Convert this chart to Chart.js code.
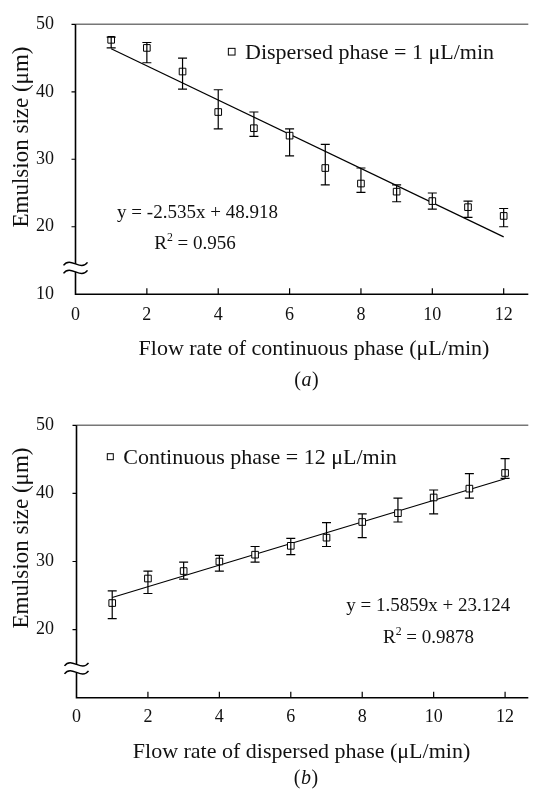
<!DOCTYPE html>
<html>
<head>
<meta charset="utf-8">
<title>Emulsion size vs flow rate</title>
<script src="https://cdn.jsdelivr.net/npm/chart.js@4.4.1/dist/chart.umd.min.js"></script>
<style>
  html, body { margin: 0; padding: 0; background: #fff; }
  #page { position: relative; width: 534px; height: 789px; overflow: hidden; }
  canvas { position: absolute; left: 0; }
</style>
</head>
<body>
<div id="page">
  <canvas id="chartA" width="534" height="400" style="top:0"></canvas>
  <canvas id="chartB" width="534" height="389" style="top:400px"></canvas>
</div>
<script>
const flowRates = [1, 2, 3, 4, 5, 6, 7, 8, 9, 10, 11, 12];

// (a) continuous phase varied, dispersed phase = 1 uL/min
const sizeA     = [47.7, 46.5, 43.0, 37.0, 34.6, 33.5, 28.7, 26.4, 25.2, 23.8, 22.9, 21.6];
const sizeAHigh = [48.1, 47.3, 45.0, 40.3, 37.0, 34.5, 32.2, 28.7, 26.2, 25.0, 23.8, 22.7];
const sizeALow  = [46.5, 44.3, 40.4, 34.5, 33.4, 30.5, 26.2, 25.1, 23.7, 22.6, 21.4, 20.0];
const fitSlopeA = -2.535;
const fitInterceptA = 48.918;

// (b) dispersed phase varied, continuous phase = 12 uL/min
const sizeB     = [23.9, 27.5, 28.6, 30.0, 31.0, 32.3, 33.5, 35.8, 37.1, 39.4, 40.7, 43.0];
const sizeBHigh = [25.7, 28.6, 29.9, 30.9, 32.2, 33.4, 35.7, 37.0, 39.3, 40.5, 42.9, 45.1];
const sizeBLow  = [21.6, 25.3, 27.4, 28.6, 29.9, 31.0, 32.2, 33.5, 35.8, 37.0, 39.3, 42.2];
const fitSlopeB = 1.5859;
const fitInterceptB = 23.124;

const xTicks = [0, 2, 4, 6, 8, 10, 12];
const yTicksA = [10, 20, 30, 40, 50];
const yTicksB = [20, 30, 40, 50];

const SERIF = '"Liberation Serif", "Times New Roman", serif';

function setFont(ctx, size, style) {
  ctx.font = (style ? style + " " : "") + size + "px " + SERIF;
}

function drawR2(ctx, value, cx, baseline, size) {
  setFont(ctx, size);
  const wR = ctx.measureText("R").width;
  const rest = " = " + value;
  const wRest = ctx.measureText(rest).width;
  setFont(ctx, size * 0.62);
  const w2 = ctx.measureText("2").width;
  let x = cx - (wR + w2 + wRest) / 2;
  ctx.textAlign = "left";
  ctx.textBaseline = "alphabetic";
  setFont(ctx, size);
  ctx.fillText("R", x, baseline);
  x += wR;
  setFont(ctx, size * 0.62);
  ctx.fillText("2", x, baseline - size * 0.42);
  x += w2;
  setFont(ctx, size);
  ctx.fillText(rest, x, baseline);
}

function drawCaption(ctx, letter, cx, baseline, size) {
  setFont(ctx, size);
  const wp = ctx.measureText("(").width;
  const wq = ctx.measureText(")").width;
  setFont(ctx, size, "italic");
  const wl = ctx.measureText(letter).width;
  let x = cx - (wp + wl + wq) / 2;
  ctx.textAlign = "left";
  ctx.textBaseline = "alphabetic";
  setFont(ctx, size);
  ctx.fillText("(", x, baseline);
  setFont(ctx, size, "italic");
  ctx.fillText(letter, x + wp + 0.5, baseline);
  setFont(ctx, size);
  ctx.fillText(")", x + wp + wl + 1, baseline);
}

const decorPlugin = {
  id: "decor",
  afterDatasetsDraw(chart, args, o) {
    const ctx = chart.ctx;
    const xs = chart.scales.x, ys = chart.scales.y;
    ctx.save();
    ctx.strokeStyle = "#000";
    ctx.lineWidth = 1.2;
    flowRates.forEach((v, i) => {
      const px = xs.getPixelForValue(v);
      const top = ys.getPixelForValue(o.high[i]);
      const bot = ys.getPixelForValue(o.low[i]);
      ctx.beginPath();
      ctx.moveTo(px, top); ctx.lineTo(px, bot);
      ctx.moveTo(px - 4.5, top); ctx.lineTo(px + 4.5, top);
      ctx.moveTo(px - 4.5, bot); ctx.lineTo(px + 4.5, bot);
      ctx.stroke();
    });
    ctx.restore();
  },
  afterDraw(chart, args, o) {
    const ctx = chart.ctx;
    const area = chart.chartArea;
    const xs = chart.scales.x, ys = chart.scales.y;
    ctx.save();

    // frame: grey top line, black left and bottom axes
    ctx.strokeStyle = "#777";
    ctx.lineWidth = 1.5;
    ctx.beginPath();
    ctx.moveTo(area.left, area.top); ctx.lineTo(area.right, area.top);
    ctx.stroke();
    ctx.strokeStyle = "#000";
    ctx.lineWidth = 1.6;
    ctx.beginPath();
    ctx.moveTo(area.left, area.top); ctx.lineTo(area.left, area.bottom);
    ctx.lineTo(area.right, area.bottom);
    ctx.stroke();

    // tick marks: x inward, y outward
    ctx.lineWidth = 1.2;
    ctx.beginPath();
    xTicks.slice(1).forEach(v => {
      const px = xs.getPixelForValue(v);
      ctx.moveTo(px, area.bottom); ctx.lineTo(px, area.bottom - 6);
    });
    o.yTicks.forEach(v => {
      if (v === ys.min) return;
      const py = ys.getPixelForValue(v);
      ctx.moveTo(area.left - 4, py); ctx.lineTo(area.left, py);
    });
    ctx.stroke();

    // axis break symbol
    const by = ys.getPixelForValue(o.breakAt);
    const bx = area.left;
    ctx.fillStyle = "#fff";
    ctx.fillRect(bx - 2, by - 4, 4, 8);
    ctx.lineWidth = 1.5;
    [-4, 4].forEach(d => {
      const y0 = by + d;
      ctx.beginPath();
      ctx.moveTo(bx - 12, y0 + 1.5);
      ctx.bezierCurveTo(bx - 5, y0 - 8, bx + 5, y0 + 8, bx + 12, y0 - 1.5);
      ctx.stroke();
    });

    ctx.fillStyle = "#111";

    // axis titles
    ctx.save();
    setFont(ctx, 23);
    ctx.translate(o.yTitle.x, o.yTitle.y);
    ctx.rotate(-Math.PI / 2);
    ctx.textAlign = "center";
    ctx.textBaseline = "middle";
    ctx.fillText("Emulsion size (\u03bcm)", 0, 0);
    ctx.restore();

    setFont(ctx, 22);
    ctx.textAlign = "center";
    ctx.textBaseline = "alphabetic";
    ctx.fillText(o.xTitle.text, o.xTitle.x, o.xTitle.y);

    // legend
    ctx.strokeStyle = "#000";
    ctx.lineWidth = 1;
    const s = o.legend.box;
    ctx.strokeRect(o.legend.x - s / 2, o.legend.y - s / 2, s, s);
    setFont(ctx, 22);
    ctx.textAlign = "left";
    ctx.fillText(o.legend.text, o.legend.textX, o.legend.baseline);

    // regression equation
    setFont(ctx, 19);
    ctx.textAlign = "center";
    ctx.fillText(o.eq.text, o.eq.x, o.eq.y);
    drawR2(ctx, o.eq.r2, o.eq.r2x, o.eq.r2y, 19);

    drawCaption(ctx, o.caption.letter, o.caption.x, o.caption.y, 20);
    ctx.restore();
  }
};

function buildChart(canvasId, values, slope, intercept, opts) {
  const canvas = document.getElementById(canvasId);
  const fitX = [flowRates[0], flowRates[flowRates.length - 1]];
  const tickFont = { family: SERIF, size: 18 };

  return new Chart(canvas, {
    type: "scatter",
    data: {
      datasets: [
        {
          type: "line",
          data: fitX.map(x => ({ x, y: slope * x + intercept })),
          borderColor: "#000",
          borderWidth: 1.2,
          pointRadius: 0,
          fill: false,
          order: 2
        },
        {
          data: flowRates.map((x, i) => ({ x, y: values[i] })),
          pointStyle: "rect",
          pointRadius: 4.7,
          pointBorderWidth: 1,
          pointBorderColor: "#000",
          pointBackgroundColor: "#fff",
          order: 1
        }
      ]
    },
    options: {
      responsive: false,
      animation: false,
      devicePixelRatio: 1,
      layout: { padding: { top: opts.top, left: 0, right: 0, bottom: 0 } },
      plugins: {
        legend: { display: false },
        tooltip: { enabled: false },
        decor: opts
      },
      scales: {
        x: {
          type: "linear",
          min: 0,
          max: opts.xMax,
          grid: { display: false },
          border: { display: false },
          ticks: { padding: opts.xTickPad, color: "#111", font: tickFont, maxRotation: 0 },
          afterBuildTicks: sc => { sc.ticks = xTicks.map(v => ({ value: v })); },
          afterFit: sc => { sc.height = sc.chart.height - opts.bottom; }
        },
        y: {
          type: "linear",
          min: 10,
          max: 50,
          grid: { display: false },
          border: { display: false },
          ticks: { padding: opts.left - 62, color: "#111", font: tickFont },
          afterBuildTicks: sc => { sc.ticks = opts.yTicks.map(v => ({ value: v })); },
          afterFit: sc => { sc.width = opts.left; }
        }
      }
    },
    plugins: [decorPlugin]
  });
}

buildChart("chartA", sizeA, fitSlopeA, fitInterceptA, {
  top: 19.3, bottom: 294.2, left: 75.5, xMax: 12.69, xTickPad: 2.3,
  yTicks: yTicksA, high: sizeAHigh, low: sizeALow, breakAt: 13.9,
  yTitle: { x: 22, y: 137 },
  xTitle: { text: "Flow rate of continuous phase (\u03bcL/min)", x: 314, y: 355 },
  legend: { text: "Dispersed phase = 1 \u03bcL/min", x: 231.7, y: 51.7, box: 6.7, textX: 245, baseline: 58.5 },
  eq: { text: "y = -2.535x + 48.918", x: 197.5, y: 217.7, r2: "0.956", r2x: 195, r2y: 249.3 },
  caption: { letter: "a", x: 306, y: 386 }
});

buildChart("chartB", sizeB, fitSlopeB, fitInterceptB, {
  top: 22.3, bottom: 297.7, left: 76.5, xMax: 12.65, xTickPad: 0.5,
  yTicks: yTicksB, high: sizeBHigh, low: sizeBLow, breakAt: 14.3,
  yTitle: { x: 22, y: 138 },
  xTitle: { text: "Flow rate of dispersed phase (\u03bcL/min)", x: 301.5, y: 358 },
  legend: { text: "Continuous phase = 12 \u03bcL/min", x: 110.3, y: 56.7, box: 6, textX: 123.3, baseline: 64 },
  eq: { text: "y = 1.5859x + 23.124", x: 428.3, y: 211, r2: "0.9878", r2x: 428.5, r2y: 242.7 },
  caption: { letter: "b", x: 305.5, y: 384 }
});
</script>
</body>
</html>
